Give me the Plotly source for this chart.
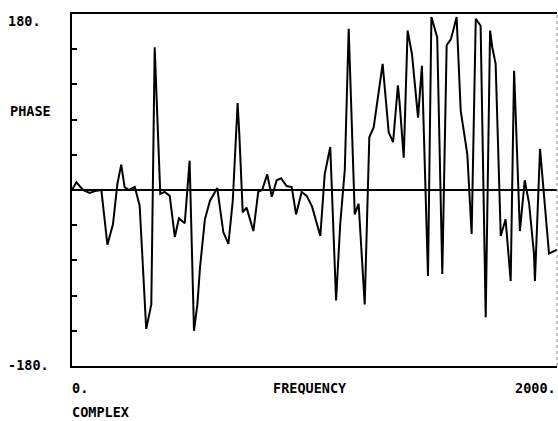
import plotly.graph_objects as go

# Frequency (Hz) and phase (degrees)
frequency = [0, 18, 45, 73, 95, 121, 146, 169, 187, 203, 217, 235, 259, 279, 306, 327,
             341, 348, 364, 382, 403, 424, 441, 465, 485, 503, 517, 528, 548, 569, 599,
             624, 645, 663, 683, 690, 704, 720, 748, 768, 784, 805, 824, 844, 862, 885,
             906, 924, 947, 968, 990, 1024, 1042, 1065, 1089, 1106, 1125, 1141, 1158,
             1166, 1182, 1207, 1226, 1244, 1281, 1306, 1324, 1336, 1344, 1351, 1368,
             1384, 1402, 1427, 1443, 1468, 1482, 1506, 1527, 1545, 1562, 1575, 1586,
             1603, 1630, 1648, 1665, 1685, 1699, 1706, 1724, 1733, 1747, 1768, 1788,
             1809, 1823, 1830, 1847, 1867, 1885, 1905, 1909, 1930, 1967, 2000]
phase = [0, 8, 0, -3, -1, 0, -56, -35, 6, 26, 3, 0, 3, -16, -142, -117,
         146, 95, -4, -2, -6, -48, -29, -34, 30, -144, -117, -79, -30, -11, 2,
         -43, -55, -11, 89, 57, -23, -18, -42, -2, 0, 16, -7, 10, 12, 4,
         3, -25, -2, -6, -17, -47, 16, 44, -113, -35, 21, 165, 44,
         -25, -14, -117, 54, 64, 129, 59, 49, 88, 107, 89, 33,
         163, 139, 74, 127, -88, 177, 156, -86, 148, 154, 166, 177,
         81, 37, -45, 175, 168, -42, -130, 163, 146, 129, -47, -30,
         -93, 122, 71, -42, 10, -14, -65, -93, 42, -65, -61]

y_range = [-180, 180]
x_range = [0, 2000]
y_label_top = "180."
y_label_bottom = "-180."
y_title = "PHASE"
x_label_left = "0."
x_label_right = "2000."
x_title = "FREQUENCY"
footer = "COMPLEX"

FONT = "DejaVu Sans Mono"

fig = go.Figure()
fig.add_trace(go.Scatter(x=frequency, y=phase, mode="lines",
                         line=dict(color="black", width=2), showlegend=False,
                         cliponaxis=True))

L, R, T, B = 72, 1, 14, 55
W, H = 558, 421
pw, ph = W - L - R, H - T - B


def px(x):
    return (x - L) / pw


def py(y):
    return (H - B - y) / ph


def label(text, x, y, anchor="left"):
    fig.add_annotation(text=text, xref="paper", yref="paper", x=px(x), y=py(y),
                       xanchor=anchor, yanchor="middle", showarrow=False,
                       font=dict(family=FONT, size=13.5, color="black", weight="bold"),
                       borderpad=0)


label(y_label_top, 7, 21)
label(y_title, 9, 111)
label(y_label_bottom, 7, 365)
label(x_label_left, 71, 388)
label(x_title, 272, 388)
label(x_label_right, 557, 388, anchor="right")
label(footer, 71, 412)

fig.add_shape(type="line", xref="paper", yref="paper", x0=1, x1=1, y0=0, y1=1,
              line=dict(color="#888888", width=1, dash="dot"))

fig.update_layout(
    width=W, height=H,
    margin=dict(l=L, r=R, t=T, b=B, pad=0),
    paper_bgcolor="white", plot_bgcolor="white",
    xaxis=dict(range=x_range, showgrid=False, zeroline=False, showline=True,
               linecolor="black", linewidth=2, mirror=True, ticks="",
               showticklabels=False),
    yaxis=dict(range=y_range, showgrid=False, zeroline=True, zerolinecolor="black",
               zerolinewidth=2, showline=True, linecolor="black", linewidth=2,
               mirror=False, ticks="inside", ticklen=5, tickwidth=1.5,
               tickcolor="black", tick0=-180, dtick=36, showticklabels=False),
)

fig.write_html("out.html",
               config={"displayModeBar": False},
               post_script="document.body.style.margin='0px';"
                           "document.body.style.overflow='hidden';")
